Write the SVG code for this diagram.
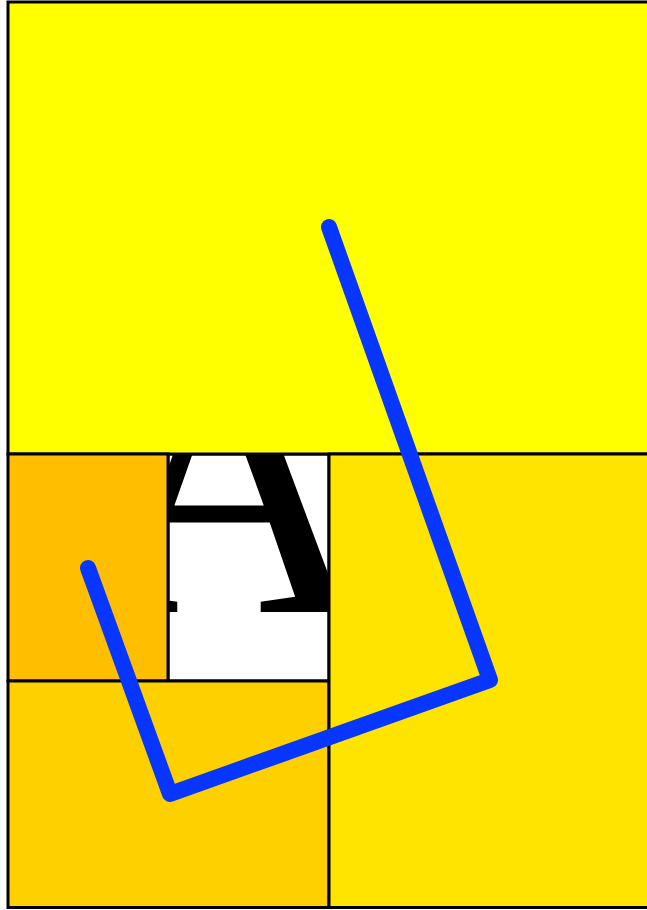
<svg xmlns="http://www.w3.org/2000/svg" width="647" height="910" viewBox="0 0 647 910">
<style>
.cell{stroke:#000;stroke-width:3}
.path{fill:none;stroke:#0636FF;stroke-width:16;stroke-linecap:round;stroke-linejoin:round}
.glyph{font-family:"Liberation Serif","Times New Roman",serif;font-size:392px;fill:#000}
</style>
<defs><clipPath id="c"><rect x="168" y="454" width="161" height="227"/></clipPath></defs>
<g id="cell-white"><rect class="cell" x="168" y="454" width="161" height="227" fill="#FFFFFF"/>
<text class="glyph" x="89" y="612" clip-path="url(#c)">A</text></g>
<g id="cell-top"><rect class="cell" x="8" y="2" width="660" height="452" fill="#FFFF00"/></g>
<g id="cell-orange"><rect class="cell" x="8" y="454" width="160" height="227" fill="#FFBF00"/></g>
<g id="cell-bottom-left"><rect class="cell" x="8" y="681" width="321" height="226.5" fill="#FFD000"/></g>
<g id="cell-right"><rect class="cell" x="329" y="454" width="340" height="453.5" fill="#FFE400"/></g>
<g id="connectors"><polyline class="path" points="329,227 490,680 170,794 88,568"/></g>
</svg>
